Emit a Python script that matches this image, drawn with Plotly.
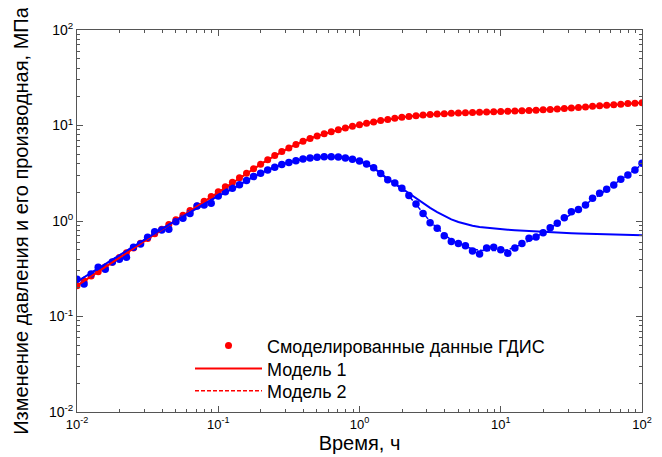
import plotly.graph_objects as go

# Time grid, hours
time_h = [
    0.01, 0.01122, 0.01259, 0.01413, 0.01585, 0.01778, 0.01995, 0.02239, 0.02512, 0.02818,
    0.03162, 0.03548, 0.03981, 0.04467, 0.05012, 0.05623, 0.0631, 0.07079, 0.07943, 0.08913,
    0.1, 0.1122, 0.1259, 0.1413, 0.1585, 0.1778, 0.1995, 0.2239, 0.2512, 0.2818,
    0.3162, 0.3548, 0.3981, 0.4467, 0.5012, 0.5623, 0.631, 0.7079, 0.7943, 0.8913,
    1.0, 1.122, 1.259, 1.413, 1.585, 1.778, 1.995, 2.239, 2.512, 2.818,
    3.162, 3.548, 3.981, 4.467, 5.012, 5.623, 6.31, 7.079, 7.943, 8.913,
    10.0, 11.22, 12.59, 14.13, 15.85, 17.78, 19.95, 22.39, 25.12, 28.18,
    31.62, 35.48, 39.81, 44.67, 50.12, 56.23, 63.1, 70.79, 79.43, 89.13,
    100.0,
]

# Simulated well-test data: pressure change (red dots)
dp_obs = [
    0.21, 0.235, 0.265, 0.295, 0.33, 0.37, 0.415, 0.465, 0.52, 0.585,
    0.655, 0.735, 0.82, 0.92, 1.03, 1.15, 1.29, 1.44, 1.61, 1.81,
    2.03, 2.28, 2.55, 2.84, 3.16, 3.52, 3.92, 4.37, 4.84, 5.33,
    5.83, 6.33, 6.83, 7.30, 7.76, 8.19, 8.60, 9.00, 9.40, 9.80,
    10.18, 10.55, 10.90, 11.25, 11.58, 11.90, 12.20, 12.46, 12.68, 12.87,
    13.03, 13.17, 13.29, 13.40, 13.50, 13.59, 13.68, 13.76, 13.84, 13.92,
    14.00, 14.08, 14.16, 14.25, 14.35, 14.47, 14.60, 14.75, 14.90, 15.07,
    15.25, 15.44, 15.64, 15.86, 16.08, 16.30, 16.52, 16.74, 16.95, 17.15,
    17.35,
]

# Simulated well-test data: pressure derivative (blue dots)
deriv_obs = [
    0.245, 0.219, 0.279, 0.327, 0.312, 0.372, 0.397, 0.417, 0.531, 0.574,
    0.675, 0.773, 0.805, 0.818, 0.984, 1.07, 1.20, 1.44, 1.47, 1.53,
    1.83, 2.03, 2.20, 2.40, 2.66, 2.92, 3.16, 3.42, 3.66, 3.90,
    4.10, 4.28, 4.45, 4.57, 4.65, 4.70, 4.71, 4.68, 4.58, 4.42,
    4.25, 3.95, 3.60, 3.15, 2.70, 2.50, 2.20, 1.85, 1.51, 1.20,
    0.96, 0.84, 0.70, 0.61, 0.58, 0.55, 0.485, 0.45, 0.52, 0.53,
    0.50, 0.46, 0.52, 0.58, 0.66, 0.68, 0.755, 0.85, 0.95, 1.08,
    1.25, 1.32, 1.47, 1.73, 1.95, 2.15, 2.38, 2.73, 3.03, 3.42,
    4.02,
]

# Model pressure change (both models)
dp_model1 = [
    0.21, 0.235, 0.265, 0.295, 0.33, 0.37, 0.415, 0.465, 0.52, 0.585,
    0.655, 0.735, 0.82, 0.92, 1.03, 1.15, 1.29, 1.44, 1.61, 1.81,
    2.03, 2.28, 2.55, 2.84, 3.16, 3.52, 3.92, 4.37, 4.84, 5.33,
    5.83, 6.33, 6.83, 7.30, 7.76, 8.19, 8.60, 9.00, 9.40, 9.80,
    10.18, 10.55, 10.90, 11.25, 11.58, 11.90, 12.20, 12.46, 12.68, 12.87,
    13.03, 13.17, 13.29, 13.40, 13.50, 13.59, 13.68, 13.76, 13.84, 13.92,
    14.00, 14.08, 14.16, 14.25, 14.35, 14.47, 14.60, 14.75, 14.90, 15.07,
    15.25, 15.44, 15.64, 15.86, 16.08, 16.30, 16.52, 16.74, 16.95, 17.15,
    17.35,
]
dp_model2 = list(dp_model1)

# Model 1 derivative (solid blue)
deriv_model1 = [
    0.232, 0.258, 0.288, 0.32, 0.355, 0.395, 0.44, 0.49, 0.545, 0.605,
    0.67, 0.745, 0.825, 0.915, 1.01, 1.12, 1.24, 1.37, 1.51, 1.66,
    1.82, 1.99, 2.17, 2.38, 2.66, 2.92, 3.16, 3.42, 3.66, 3.90,
    4.10, 4.28, 4.45, 4.57, 4.65, 4.70, 4.71, 4.68, 4.58, 4.42,
    4.25, 3.95, 3.60, 3.15, 2.75, 2.47, 2.19, 1.94, 1.72, 1.53,
    1.37, 1.24, 1.13, 1.04, 0.975, 0.925, 0.89, 0.865, 0.848, 0.835,
    0.823, 0.812, 0.802, 0.793, 0.784, 0.776, 0.768, 0.761, 0.755, 0.749,
    0.744, 0.739, 0.735, 0.731, 0.727, 0.723, 0.72, 0.717, 0.714, 0.711,
    0.708,
]

# Model 2 derivative (dashed blue)
deriv_model2 = [
    0.232, 0.258, 0.288, 0.32, 0.355, 0.395, 0.44, 0.49, 0.545, 0.605,
    0.67, 0.745, 0.825, 0.915, 1.01, 1.12, 1.24, 1.37, 1.51, 1.66,
    1.82, 1.99, 2.17, 2.38, 2.66, 2.92, 3.16, 3.42, 3.66, 3.90,
    4.10, 4.28, 4.45, 4.57, 4.65, 4.70, 4.71, 4.68, 4.58, 4.42,
    4.25, 3.95, 3.60, 3.15, 2.72, 2.45, 2.15, 1.83, 1.50, 1.21,
    0.99, 0.84, 0.72, 0.635, 0.58, 0.54, 0.51, 0.495, 0.49, 0.49,
    0.49, 0.50, 0.53, 0.57, 0.62, 0.68, 0.75, 0.84, 0.94, 1.06,
    1.19, 1.33, 1.49, 1.68, 1.89, 2.13, 2.40, 2.70, 3.03, 3.42,
    3.90,
]

tick_vals = [0.01, 0.1, 1, 10, 100]
tick_text = ["10<sup>-2</sup>", "10<sup>-1</sup>", "10<sup>0</sup>", "10<sup>1</sup>", "10<sup>2</sup>"]

legend_names = ["Смоделированные данные ГДИС", "Модель 1", "Модель 2"]
x_title = "Время, ч"
y_title = "Изменение давления и его производная, МПа"

RED = "#ff0000"
BLUE = "#0000ff"
FONT = "Liberation Sans, Arial, sans-serif"

fig = go.Figure()
fig.add_trace(go.Scatter(x=time_h, y=dp_obs, mode="markers", name=legend_names[0],
                         marker=dict(color=RED, size=7), showlegend=True, legend="legend"))
fig.add_trace(go.Scatter(x=time_h, y=deriv_obs, mode="markers", name="deriv data",
                         marker=dict(color=BLUE, size=7.5), showlegend=False))
fig.add_trace(go.Scatter(x=time_h, y=dp_model1, mode="lines", name=legend_names[1],
                         line=dict(color=RED, width=2), legend="legend2"))
fig.add_trace(go.Scatter(x=time_h, y=dp_model2, mode="lines", name=legend_names[2],
                         line=dict(color=RED, width=1.5, dash="4px,2px"), legend="legend3"))
fig.add_trace(go.Scatter(x=time_h, y=deriv_model1, mode="lines", name="m1 deriv",
                         line=dict(color=BLUE, width=2), showlegend=False))
fig.add_trace(go.Scatter(x=time_h, y=deriv_model2, mode="lines", name="m2 deriv",
                         line=dict(color=BLUE, width=1.5, dash="4px,2px"), showlegend=False))

axis_common = dict(
    type="log",
    tickvals=tick_vals,
    ticktext=tick_text,
    ticks="inside",
    ticklen=6,
    tickcolor="#555555",
    showline=True,
    linecolor="#555555",
    linewidth=1,
    mirror="ticks",
    showgrid=False,
    zeroline=False,
    minor=dict(ticks="inside", ticklen=3, tickcolor="#555555", dtick="D1", showgrid=False),
)

leg_common = dict(xanchor="left", yanchor="middle", bgcolor="rgba(0,0,0,0)", borderwidth=0,
                  font=dict(family=FONT, size=18), itemwidth=67)

fig.update_layout(
    width=654,
    height=449,
    margin=dict(l=69, r=10, t=22, b=45, pad=0),
    paper_bgcolor="white",
    plot_bgcolor="white",
    font=dict(family=FONT, color="#000000"),
    xaxis=dict(axis_common, range=[-2, 2],
               tickfont=dict(family=FONT, size=13, color="#000000"),
               title=dict(text=x_title, font=dict(family=FONT, size=20), standoff=0)),
    yaxis=dict(axis_common, range=[-2, 2],
               tickfont=dict(family=FONT, size=14, color="#000000"),
               title=dict(text=y_title, font=dict(family=FONT, size=20), standoff=14)),
    legend=dict(leg_common, x=0.20, y=0.173),
    legend2=dict(leg_common, x=0.20, y=0.113),
    legend3=dict(leg_common, x=0.20, y=0.055),
)

fig.write_html("out.html")
